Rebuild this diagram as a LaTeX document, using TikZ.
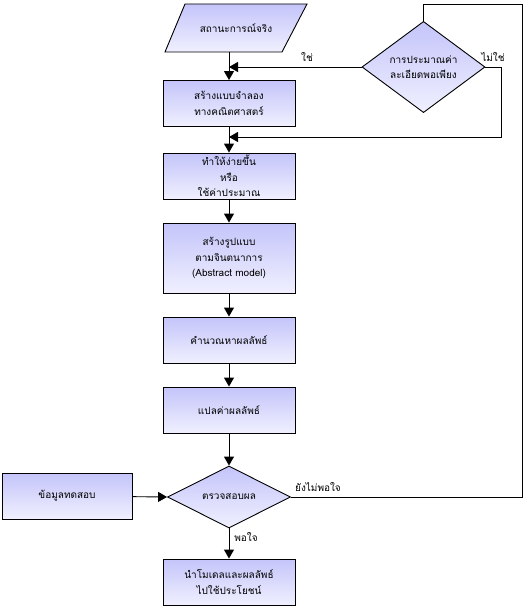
\documentclass[tikz,border=0pt]{standalone}
\usepackage{fontspec}
\newfontfamily\thaifont[Script=Thai]{Loma}
\usetikzlibrary{shapes.geometric,arrows.meta}
\definecolor{boxtop}{RGB}{196,196,250}
\definecolor{boxbot}{RGB}{240,240,255}

\begin{document}
\begin{tikzpicture}[x=1pt,y=-1pt,
    font=\thaifont\fontsize{10}{15.5}\selectfont,
    box/.style={draw, line width=0.9pt, top color=boxtop, bottom color=boxbot,
      minimum width=132pt, minimum height=46pt, inner sep=0pt, align=center},
    decide/.style={box, diamond, minimum width=123pt, minimum height=62pt},
    flow/.style={line width=0.9pt, -{Triangle[width=10pt,length=9pt]}},
    link/.style={line width=0.9pt}]
    \useasboundingbox (0,0) rectangle (526,607);

    % real situation
    \draw[link, top color=boxtop, bottom color=boxbot] (185,4) -- (307,4) -- (282,52) -- (165,52) -- cycle;
    \node (real) at (236,28) {สถานะการณ์จริง};
    \coordinate (realbot) at (229,52);

    % main column
    \node[box] (model) at (229,103.5) {สร้างแบบจำลอง\\ทางคณิตศาสตร์};
    \node[box] (simplify) at (229,176) {ทำให้ง่ายขึ้น\\หรือ\\ใช้ค่าประมาณ};
    \node[box, minimum height=70pt] (abstract) at (229,258) {สร้างรูปแบบ\\ตามจินตนาการ\\(Abstract model)};
    \node[box] (compute) at (229,340) {คำนวณหาผลลัพธ์};
    \node[box] (interpret) at (229,410) {แปลค่าผลลัพธ์};
    \node[decide] (check) at (229,497) {ตรวจสอบผล};
    \node[box] (use) at (229,582) {นำโมเดลและผลลัพธ์\\ไปใช้ประโยชน์};
    \node[box, minimum width=130pt] (testdata) at (67,496) {ข้อมูลทดสอบ};

    \node[decide] (approx) at (423.5,67) {การประมาณค่า\\ละเอียดพอเพียง};
    \coordinate (join) at (229,137);

    \draw[flow] (realbot) -- (model);
    \draw[flow] (model) -- (simplify);
    \draw[flow] (simplify) -- (abstract);
    \draw[flow] (abstract) -- (compute);
    \draw[flow] (compute) -- (interpret);
    \draw[flow] (interpret) -- (check);
    \draw[flow] (check) -- (use);
    \draw[flow] (testdata) -- (check.west);

    % loops back
    \draw[flow] (approx.west) -- (approx.west -| model.north);
    \draw[flow] (approx.east) -- ++(16,0) |- (join);
    \draw[link] (check.east) -| (522,4) -| (approx.north);

    \node (yes) at (307,57) {ใช่};
    \node (no) at (493,57) {ไม่ใช่};
    \node (notok) at (318,487) {ยังไม่พอใจ};
    \node (ok) at (246,537) {พอใจ};
\end{tikzpicture}
\end{document}
